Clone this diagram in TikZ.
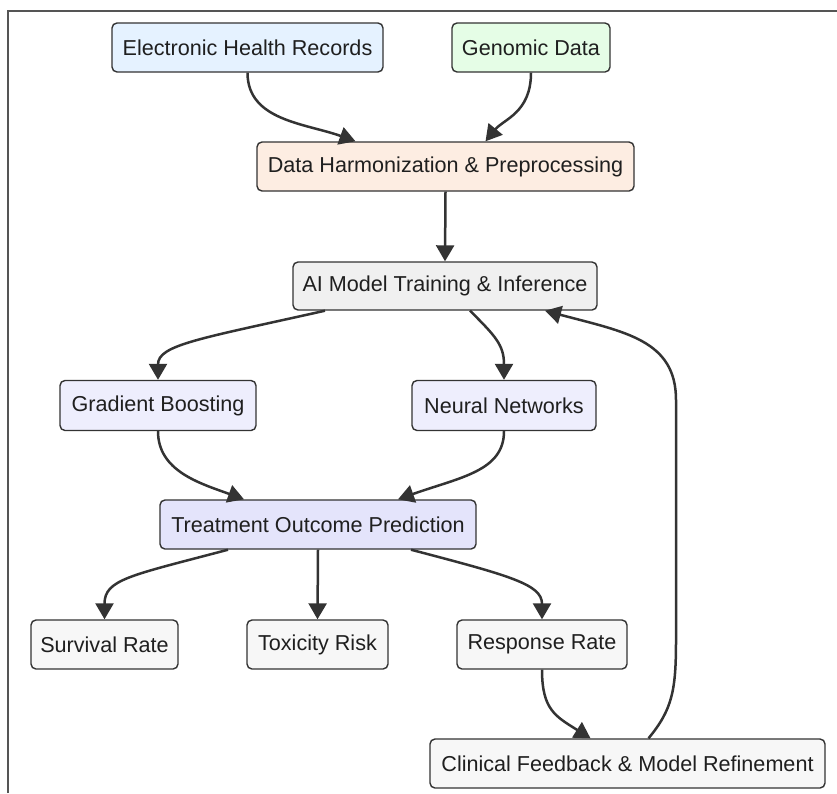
\documentclass[tikz,border=0pt]{standalone}
\usepackage{fontspec}
\setmainfont{Liberation Sans}
\usetikzlibrary{arrows.meta}

\definecolor{edgec}{HTML}{333333}
\definecolor{framec}{HTML}{555555}
\definecolor{ehrc}{HTML}{E5F2FF}
\definecolor{genc}{HTML}{E5FDE6}
\definecolor{prepc}{HTML}{FDEDE2}
\definecolor{aic}{HTML}{F0F0F0}
\definecolor{modelc}{HTML}{EEEEFD}
\definecolor{predc}{HTML}{E4E4FB}
\definecolor{outc}{HTML}{F7F7F7}

\tikzset{
  box/.style={draw=edgec, line width=1.4pt, rounded corners=5pt,
    inner sep=0pt, text=black!88,
    font=\fontsize{21.6pt}{26pt}\selectfont},
  flow/.style={draw=edgec, line width=2.5pt,
    -{Triangle[length=16pt,width=18pt]}},
}

\begin{document}
\begin{tikzpicture}[x=1pt, y=-1pt]
  \useasboundingbox (0,0) rectangle (837,793);
  % frame along the top and left edges
  \draw[framec, line width=1.2pt] (8,793) -- (8,11) -- (837,11);

  % sources
  \node[box, fill=ehrc, minimum width=271pt, minimum height=49pt] (ehr) at (247.5,47.5) {Electronic Health Records};
  \node[box, fill=genc, minimum width=158pt, minimum height=49pt] (gen) at (531,47.5) {Genomic Data};
  % pipeline
  \node[box, fill=prepc, minimum width=377pt, minimum height=49pt] (prep) at (445.5,166.5) {Data Harmonization \& Preprocessing};
  \node[box, fill=aic, minimum width=304pt, minimum height=48pt] (ai) at (445,286) {AI Model Training \& Inference};
  \node[box, fill=modelc, minimum width=196pt, minimum height=50pt] (gb) at (158,405.5) {Gradient Boosting};
  \node[box, fill=modelc, minimum width=184pt, minimum height=50pt] (nn) at (504,405.5) {Neural Networks};
  \node[box, fill=predc, minimum width=316pt, minimum height=49pt] (pred) at (318,524.5) {Treatment Outcome Prediction};
  % outcomes
  \node[box, fill=outc, minimum width=147pt, minimum height=49pt] (surv) at (104.5,644.5) {Survival Rate};
  \node[box, fill=outc, minimum width=141pt, minimum height=49pt] (tox) at (317.5,644.5) {Toxicity Risk};
  \node[box, fill=outc, minimum width=170pt, minimum height=49pt] (resp) at (542,644.5) {Response Rate};
  \node[box, fill=outc, minimum width=395pt, minimum height=49pt] (clin) at (627.5,763.5) {Clinical Feedback \& Model Refinement};

  % connectors (control offsets: positive yshift lies above the target)
  \draw[flow] (ehr.south) .. controls ++(0,48) and ([xshift=-140pt,yshift=18pt]prep.north) .. ([xshift=-90pt]prep.north);
  \draw[flow] (gen.south) .. controls ++(0,40) and ([xshift=58pt,yshift=22pt]prep.north) .. ([xshift=40pt]prep.north);
  \draw[flow] (prep.south) -- (ai.north);
  \draw[flow] ([xshift=-120pt]ai.south) .. controls ++(-125,28) and ([yshift=35pt]gb.north) .. (gb.north);
  \draw[flow] ([xshift=25pt]ai.south) .. controls ++(25,25) and ([yshift=35pt]nn.north) .. (nn.north);
  \draw[flow] (gb.south) .. controls ++(0,40) and ([xshift=-118pt,yshift=16pt]pred.north) .. ([xshift=-74pt]pred.north);
  \draw[flow] (nn.south) .. controls ++(0,40) and ([xshift=142pt,yshift=22pt]pred.north) .. ([xshift=80pt]pred.north);
  \draw[flow] ([xshift=-90pt]pred.south) .. controls ++(-98,26) and ([yshift=40pt]surv.north) .. (surv.north);
  \draw[flow] (pred.south) -- (tox.north);
  \draw[flow] ([xshift=93pt]pred.south) .. controls ++(99,26) and ([yshift=35pt]resp.north) .. (resp.north);
  \draw[flow] (resp.south) .. controls ++(0,40) and ([xshift=-72pt,yshift=22pt]clin.north) .. ([xshift=-37pt]clin.north);
  \draw[flow] ([xshift=21pt]clin.north) .. controls ++(24,-29) and (676,690) .. (676,640)
    -- (676,400) .. controls (676,340) and (625,332) .. ([xshift=100pt]ai.south);
\end{tikzpicture}
\end{document}
